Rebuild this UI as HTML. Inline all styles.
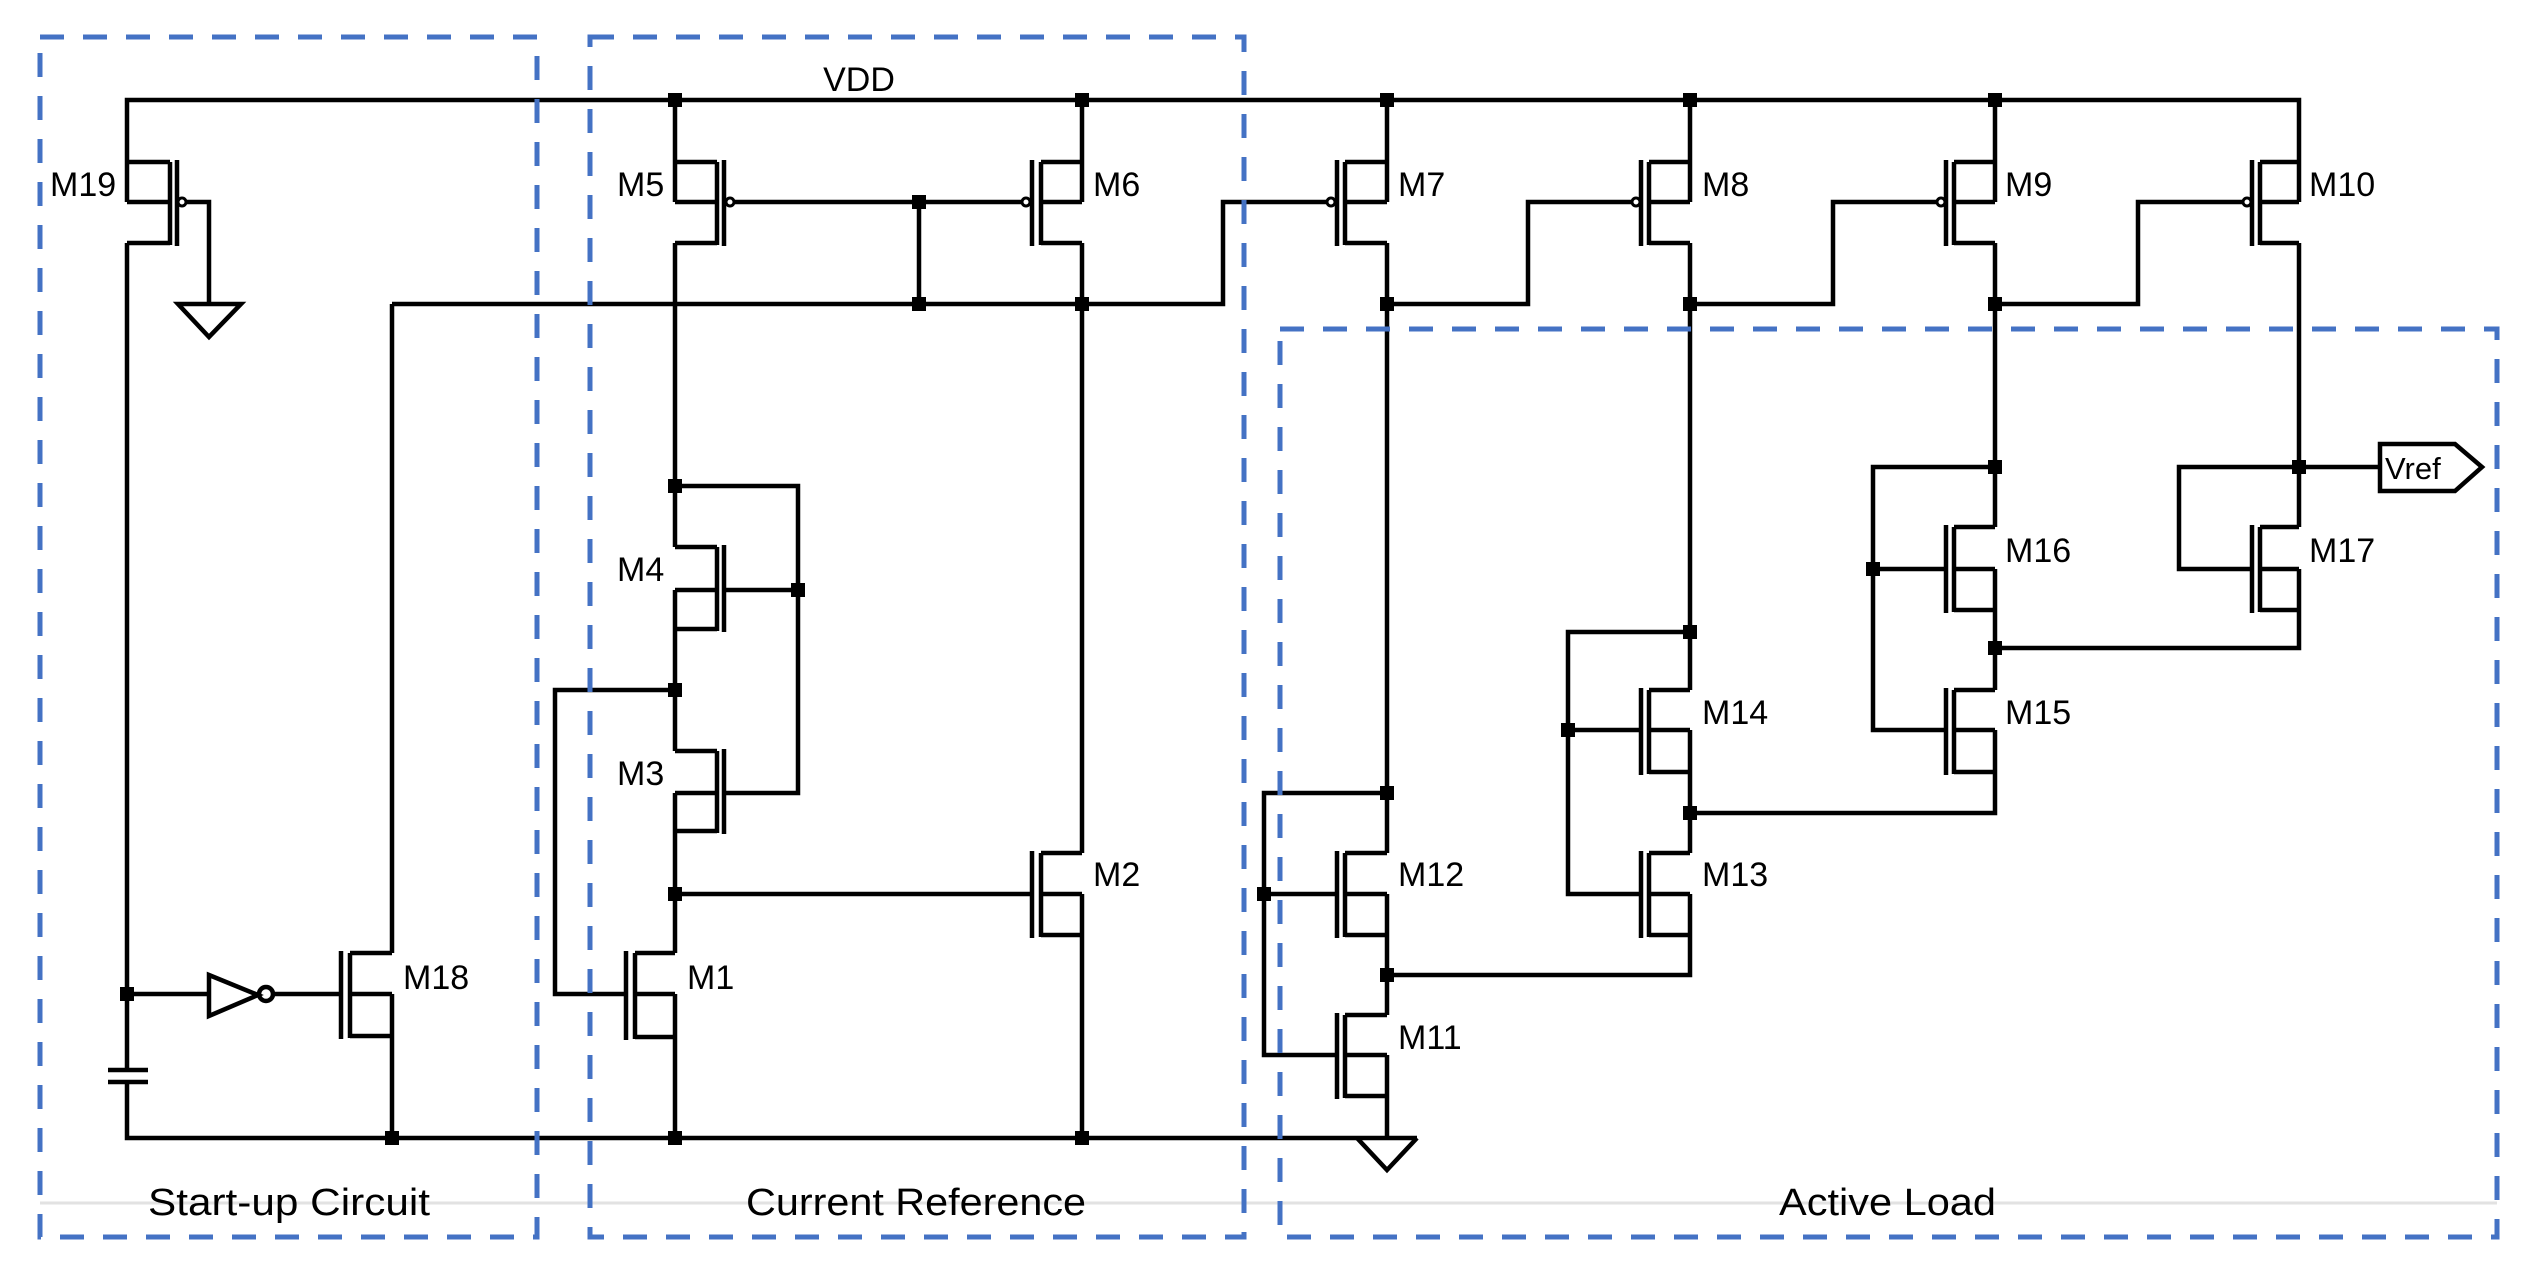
<!DOCTYPE html>
<html><head><meta charset="utf-8"><style>
html,body{margin:0;padding:0;background:#fff;}
svg{display:block;}
text{font-family:"Liberation Sans",sans-serif;fill:#000;}
</style></head><body>
<svg width="2541" height="1271" viewBox="0 0 2541 1271" xmlns="http://www.w3.org/2000/svg">
<line x1="40" y1="1203" x2="2497" y2="1203" stroke="#e2e2e2" stroke-width="3"/>
<g fill="none" stroke="#000" stroke-width="4.5" stroke-linejoin="miter">
<path d="M127,162 V100 H2299 V162"/>
<path d="M675,100 V162 M1082,100 V162 M1387,100 V162 M1690,100 V162 M1995,100 V162"/>
<path d="M186,202 H209 V304"/>
<path d="M178,304 H241 L209,337 Z"/>
<path d="M127,243 V1070 M108,1070 H148 M108,1082 H148 M127,1082 V1138 H1417"/>
<path d="M1357,1138 L1387,1170 L1417,1138"/>
<path d="M735,202 H1021 M919,202 V304"/>
<path d="M392,304 H1223 V202 H1326"/>
<path d="M675,243 V547 M675,486 H798 V793 H725 M725,590 H798"/>
<path d="M675,629 V751 M675,690 H555 V994 H625"/>
<path d="M675,831 V953 M675,894 H1031"/>
<path d="M675,1037 V1138"/>
<path d="M1082,243 V853 M1082,935 V1138"/>
<path d="M392,304 V953 M392,1036 V1138"/>
<path d="M127,994 H209 M209,975 L258,995 L209,1016 Z M274,994 H340"/>
<circle cx="266" cy="994" r="7"/>
<path d="M1387,243 V853 M1387,304 H1528 V202 H1631"/>
<path d="M1387,793 H1264 V1055 H1336 M1264,894 H1336"/>
<path d="M1387,935 V1015 M1387,975 H1690 V935 M1387,1096 V1138"/>
<path d="M1690,243 V690 M1690,304 H1833 V202 H1936"/>
<path d="M1690,632 H1568 V894 H1641 M1568,730 H1641"/>
<path d="M1690,772 V853 M1690,813 H1995 V772"/>
<path d="M1995,243 V527 M1995,304 H2138 V202 H2242"/>
<path d="M1995,467 H1873 V730 H1946 M1873,569 H1946"/>
<path d="M1995,610 V690 M1995,648 H2299 V610"/>
<path d="M2299,243 V527 M2299,467 H2380 M2299,467 H2179 V569 H2252"/>
<path d="M2380,444 H2455 L2482,467 L2455,491 H2380 Z"/>
<g>
<path d="M127,162 H170 M127,202 H170 M127,243 H170 M127,162 V202 M170,162 V245 M177,160 V246"/>
<circle cx="182" cy="202" r="4" stroke-width="3"/>
<path d="M675,162 H717 M675,202 H717 M675,243 H717 M675,162 V202 M717,162 V245 M724,160 V246"/>
<circle cx="730" cy="202" r="4" stroke-width="3"/>
<path d="M1082,162 H1041 M1082,202 H1041 M1082,243 H1041 M1082,162 V202 M1041,162 V245 M1032,160 V246"/>
<circle cx="1026" cy="202" r="4" stroke-width="3"/>
<path d="M1387,162 H1345 M1387,202 H1345 M1387,243 H1345 M1387,162 V202 M1345,162 V245 M1337,160 V246"/>
<circle cx="1331" cy="202" r="4" stroke-width="3"/>
<path d="M1690,162 H1649 M1690,202 H1649 M1690,243 H1649 M1690,162 V202 M1649,162 V245 M1641,160 V246"/>
<circle cx="1636" cy="202" r="4" stroke-width="3"/>
<path d="M1995,162 H1954 M1995,202 H1954 M1995,243 H1954 M1995,162 V202 M1954,162 V245 M1946,160 V246"/>
<circle cx="1941" cy="202" r="4" stroke-width="3"/>
<path d="M2299,162 H2260 M2299,202 H2260 M2299,243 H2260 M2299,162 V202 M2260,162 V245 M2252,160 V246"/>
<circle cx="2247" cy="202" r="4" stroke-width="3"/>
</g>
<g>
<path d="M675,547 H717 M675,590 H717 M675,629 H717 M675,590 V629 M717,547 V631 M724,545 V632"/>
<path d="M675,751 H717 M675,793 H717 M675,831 H717 M675,793 V831 M717,751 V833 M724,749 V834"/>
<path d="M675,953 H635 M675,994 H635 M675,1037 H635 M675,994 V1037 M635,953 V1039 M626,951 V1040"/>
<path d="M1082,853 H1041 M1082,894 H1041 M1082,935 H1041 M1082,894 V935 M1041,853 V937 M1032,851 V938"/>
<path d="M392,953 H350 M392,994 H350 M392,1036 H350 M392,994 V1036 M350,953 V1038 M341,951 V1039"/>
<path d="M1995,527 H1954 M1995,569 H1954 M1995,610 H1954 M1995,569 V610 M1954,527 V612 M1946,525 V613"/>
<path d="M2299,527 H2260 M2299,569 H2260 M2299,610 H2260 M2299,569 V610 M2260,527 V612 M2252,525 V613"/>
<path d="M1690,690 H1649 M1690,730 H1649 M1690,772 H1649 M1690,730 V772 M1649,690 V774 M1641,688 V775"/>
<path d="M1995,690 H1954 M1995,730 H1954 M1995,772 H1954 M1995,730 V772 M1954,690 V774 M1946,688 V775"/>
<path d="M1690,853 H1649 M1690,894 H1649 M1690,935 H1649 M1690,894 V935 M1649,853 V937 M1641,851 V938"/>
<path d="M1387,853 H1345 M1387,894 H1345 M1387,935 H1345 M1387,894 V935 M1345,853 V937 M1337,851 V938"/>
<path d="M1387,1015 H1345 M1387,1055 H1345 M1387,1096 H1345 M1387,1055 V1096 M1345,1015 V1098 M1337,1013 V1099"/>
</g>
</g>
<g fill="#000">
<rect x="668" y="93" width="14" height="14"/><rect x="1075" y="93" width="14" height="14"/>
<rect x="1380" y="93" width="14" height="14"/><rect x="1683" y="93" width="14" height="14"/>
<rect x="1988" y="93" width="14" height="14"/>
<rect x="912" y="195" width="14" height="14"/><rect x="912" y="297" width="14" height="14"/>
<rect x="1075" y="297" width="14" height="14"/>
<rect x="1380" y="297" width="14" height="14"/><rect x="1683" y="297" width="14" height="14"/>
<rect x="1988" y="297" width="14" height="14"/>
<rect x="668" y="479" width="14" height="14"/><rect x="791" y="583" width="14" height="14"/>
<rect x="668" y="683" width="14" height="14"/><rect x="668" y="887" width="14" height="14"/>
<rect x="120" y="987" width="14" height="14"/>
<rect x="385" y="1131" width="14" height="14"/><rect x="668" y="1131" width="14" height="14"/>
<rect x="1075" y="1131" width="14" height="14"/>
<rect x="1380" y="786" width="14" height="14"/><rect x="1257" y="887" width="14" height="14"/>
<rect x="1380" y="968" width="14" height="14"/>
<rect x="1683" y="625" width="14" height="14"/><rect x="1561" y="723" width="14" height="14"/>
<rect x="1683" y="806" width="14" height="14"/>
<rect x="1988" y="460" width="14" height="14"/><rect x="1866" y="562" width="14" height="14"/>
<rect x="1988" y="641" width="14" height="14"/>
<rect x="2292" y="460" width="14" height="14"/>
</g>
<g fill="none" stroke="#4472C4" stroke-width="5" stroke-dasharray="24 19">
<rect x="40" y="37" width="497" height="1200"/>
<rect x="590" y="37" width="654" height="1200"/>
<rect x="1280" y="329" width="1217" height="908"/>
</g>
<g font-size="34">
<text x="859" y="91" text-anchor="middle">VDD</text>
<text x="50" y="196">M19</text>
<text x="617" y="196">M5</text>
<text x="1093" y="196">M6</text>
<text x="1398" y="196">M7</text>
<text x="1702" y="196">M8</text>
<text x="2005" y="196">M9</text>
<text x="2309" y="196">M10</text>
<text x="617" y="581">M4</text>
<text x="617" y="785">M3</text>
<text x="1093" y="886">M2</text>
<text x="687" y="989">M1</text>
<text x="403" y="989">M18</text>
<text x="2005" y="562">M16</text>
<text x="2309" y="562">M17</text>
<text x="1702" y="724">M14</text>
<text x="2005" y="724">M15</text>
<text x="1702" y="886">M13</text>
<text x="1398" y="886">M12</text>
<text x="1398" y="1049">M11</text>
<text x="2385" y="479" font-size="31">Vref</text>
</g>
<g font-size="38">
<text x="148" y="1215" textLength="282" lengthAdjust="spacingAndGlyphs">Start-up Circuit</text>
<text x="746" y="1215" textLength="340" lengthAdjust="spacingAndGlyphs">Current Reference</text>
<text x="1779" y="1215" textLength="217" lengthAdjust="spacingAndGlyphs">Active Load</text>
</g>
</svg>
</body></html>
